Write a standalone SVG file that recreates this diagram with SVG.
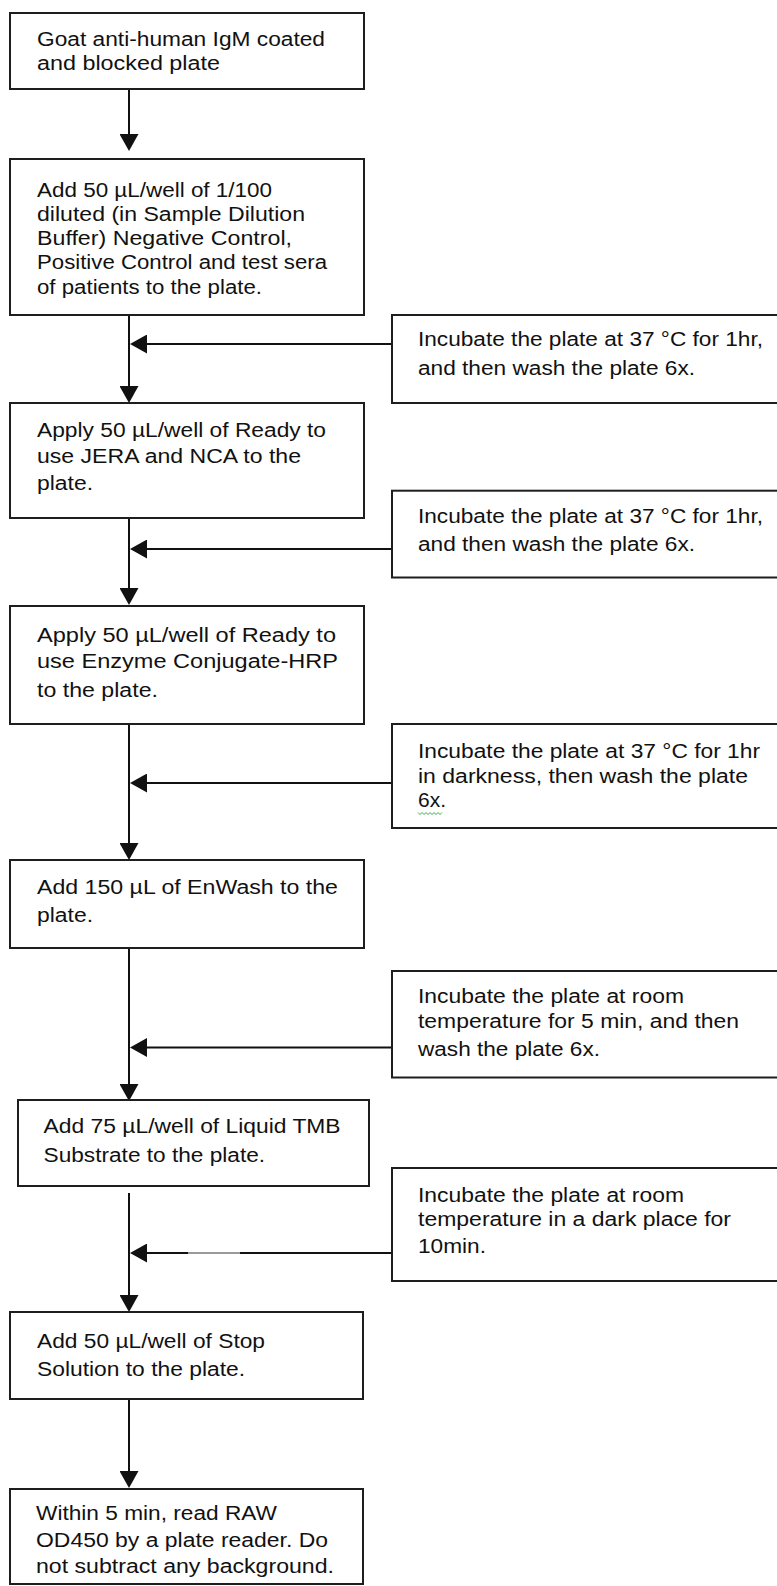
<svg xmlns="http://www.w3.org/2000/svg" width="777" height="1586" viewBox="0 0 777 1586">
  <style>
    .box { fill: #ffffff; stroke: #1e1e1e; stroke-width: 2; }
    .conn { fill: none; stroke: #111111; stroke-width: 2; }
    .t { font-family: "Liberation Sans", Arial, sans-serif; font-size: 20px; fill: #111111; }
  </style>
  <defs>
    <marker id="ah" markerUnits="userSpaceOnUse" markerWidth="18" markerHeight="19" refX="9" refY="9.5" orient="auto">
      <path d="M0,0 L17,9.5 L0,19 Z" fill="#111111"/>
    </marker>
  </defs>
  <rect width="777" height="1586" fill="#ffffff"/>

  <g id="connectors">
    <line class="conn" x1="129" y1="89" x2="129" y2="143" marker-end="url(#ah)"/>
    <line class="conn" x1="129" y1="315" x2="129" y2="395" marker-end="url(#ah)"/>
    <line class="conn" x1="392" y1="344" x2="138" y2="344" marker-end="url(#ah)"/>
    <line class="conn" x1="129" y1="518" x2="129" y2="597" marker-end="url(#ah)"/>
    <line class="conn" x1="392" y1="549" x2="138" y2="549" marker-end="url(#ah)"/>
    <line class="conn" x1="129" y1="724" x2="129" y2="852" marker-end="url(#ah)"/>
    <line class="conn" x1="392" y1="783" x2="138" y2="783" marker-end="url(#ah)"/>
    <line class="conn" x1="129" y1="947" x2="129" y2="1093" marker-end="url(#ah)"/>
    <line class="conn" x1="392" y1="1047.5" x2="138" y2="1047.5" marker-end="url(#ah)"/>
    <line class="conn" x1="129" y1="1193" x2="129" y2="1304" marker-end="url(#ah)"/>
    <line class="conn" x1="392" y1="1253" x2="138" y2="1253" marker-end="url(#ah)"/>
    <line x1="188" y1="1253" x2="240" y2="1253" stroke="#9a9a9a" stroke-width="2"/>
    <line class="conn" x1="129" y1="1399" x2="129" y2="1480" marker-end="url(#ah)"/>
  </g>

  <g id="step1">
    <rect class="box" x="10" y="13" width="354" height="76"/>
    <text class="t" x="37" y="45.7" textLength="288" lengthAdjust="spacingAndGlyphs">Goat anti-human IgM coated</text>
    <text class="t" x="37" y="70" textLength="183" lengthAdjust="spacingAndGlyphs">and blocked plate</text>
  </g>

  <g id="step2">
    <rect class="box" x="10" y="159" width="354" height="156"/>
    <text class="t" x="37" y="196.7" textLength="235" lengthAdjust="spacingAndGlyphs">Add 50 µL/well of 1/100</text>
    <text class="t" x="37" y="220.5" textLength="268" lengthAdjust="spacingAndGlyphs">diluted (in Sample Dilution</text>
    <text class="t" x="37" y="245" textLength="255" lengthAdjust="spacingAndGlyphs">Buffer) Negative Control,</text>
    <text class="t" x="37" y="269.3" textLength="290" lengthAdjust="spacingAndGlyphs">Positive Control and test sera</text>
    <text class="t" x="37" y="293.5" textLength="225" lengthAdjust="spacingAndGlyphs">of patients to the plate.</text>
  </g>

  <g id="incubate1">
    <rect class="box" x="392" y="315" width="390" height="88"/>
    <text class="t" x="418" y="345.5" textLength="345" lengthAdjust="spacingAndGlyphs">Incubate the plate at 37 °C for 1hr,</text>
    <text class="t" x="418" y="375" textLength="277" lengthAdjust="spacingAndGlyphs">and then wash the plate 6x.</text>
  </g>

  <g id="step3">
    <rect class="box" x="10" y="403" width="354" height="115"/>
    <text class="t" x="37" y="436.7" textLength="289" lengthAdjust="spacingAndGlyphs">Apply 50 µL/well of Ready to</text>
    <text class="t" x="37" y="462.7" textLength="264" lengthAdjust="spacingAndGlyphs">use JERA and NCA to the</text>
    <text class="t" x="37" y="490" textLength="56" lengthAdjust="spacingAndGlyphs">plate.</text>
  </g>

  <g id="incubate2">
    <rect class="box" x="392" y="490.7" width="390" height="86.8"/>
    <text class="t" x="418" y="523" textLength="345" lengthAdjust="spacingAndGlyphs">Incubate the plate at 37 °C for 1hr,</text>
    <text class="t" x="418" y="551" textLength="277" lengthAdjust="spacingAndGlyphs">and then wash the plate 6x.</text>
  </g>

  <g id="step4">
    <rect class="box" x="10" y="606" width="354" height="118"/>
    <text class="t" x="37" y="641.7" textLength="299" lengthAdjust="spacingAndGlyphs">Apply 50 µL/well of Ready to</text>
    <text class="t" x="37" y="668" textLength="301" lengthAdjust="spacingAndGlyphs">use Enzyme Conjugate-HRP</text>
    <text class="t" x="37" y="696.7" textLength="121" lengthAdjust="spacingAndGlyphs">to the plate.</text>
  </g>

  <g id="incubate3">
    <rect class="box" x="392" y="724" width="390" height="104"/>
    <text class="t" x="418" y="758" textLength="342" lengthAdjust="spacingAndGlyphs">Incubate the plate at 37 °C for 1hr</text>
    <text class="t" x="418" y="783" textLength="330" lengthAdjust="spacingAndGlyphs">in darkness, then wash the plate</text>
    <text class="t" x="418" y="807" textLength="28" lengthAdjust="spacingAndGlyphs">6x.</text>
    <path d="M418,812.5 l2,2 l2,-2 l2,2 l2,-2 l2,2 l2,-2 l2,2 l2,-2 l2,2 l2,-2 l2,2 l2,-2" fill="none" stroke="#3cb043" stroke-width="1"/>
  </g>

  <g id="step5">
    <rect class="box" x="10" y="860" width="354" height="88"/>
    <text class="t" x="37" y="894" textLength="301" lengthAdjust="spacingAndGlyphs">Add 150 µL of EnWash to the</text>
    <text class="t" x="37" y="921.7" textLength="56" lengthAdjust="spacingAndGlyphs">plate.</text>
  </g>

  <g id="incubate4">
    <rect class="box" x="392" y="971" width="390" height="106.5"/>
    <text class="t" x="418" y="1003" textLength="266" lengthAdjust="spacingAndGlyphs">Incubate the plate at room</text>
    <text class="t" x="418" y="1028" textLength="321" lengthAdjust="spacingAndGlyphs">temperature for 5 min, and then</text>
    <text class="t" x="418" y="1056" textLength="182" lengthAdjust="spacingAndGlyphs">wash the plate 6x.</text>
  </g>

  <g id="step6">
    <rect class="box" x="18" y="1100" width="351" height="86"/>
    <text class="t" x="43.6" y="1133" textLength="297" lengthAdjust="spacingAndGlyphs">Add 75 µL/well of Liquid TMB</text>
    <text class="t" x="43.6" y="1162" textLength="221.5" lengthAdjust="spacingAndGlyphs">Substrate to the plate.</text>
  </g>

  <g id="incubate5">
    <rect class="box" x="392" y="1168" width="390" height="113"/>
    <text class="t" x="418" y="1202" textLength="266" lengthAdjust="spacingAndGlyphs">Incubate the plate at room</text>
    <text class="t" x="418" y="1226" textLength="313" lengthAdjust="spacingAndGlyphs">temperature in a dark place for</text>
    <text class="t" x="418" y="1253" textLength="68" lengthAdjust="spacingAndGlyphs">10min.</text>
  </g>

  <g id="step7">
    <rect class="box" x="10" y="1312" width="353" height="87"/>
    <text class="t" x="37" y="1348" textLength="228" lengthAdjust="spacingAndGlyphs">Add 50 µL/well of Stop</text>
    <text class="t" x="37" y="1376" textLength="208" lengthAdjust="spacingAndGlyphs">Solution to the plate.</text>
  </g>

  <g id="step8">
    <rect class="box" x="10" y="1489" width="353" height="95"/>
    <text class="t" x="36" y="1520" textLength="241" lengthAdjust="spacingAndGlyphs">Within 5 min, read RAW</text>
    <text class="t" x="36" y="1547" textLength="292" lengthAdjust="spacingAndGlyphs">OD450 by a plate reader. Do</text>
    <text class="t" x="36" y="1573" textLength="298" lengthAdjust="spacingAndGlyphs">not subtract any background.</text>
  </g>
</svg>
